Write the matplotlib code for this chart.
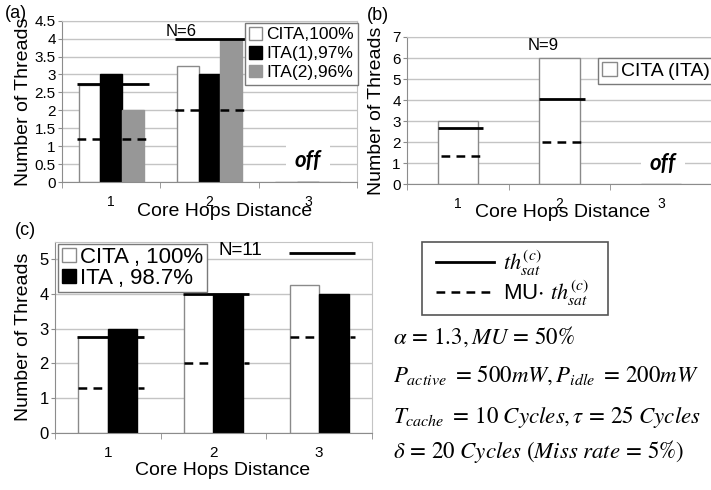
import matplotlib
matplotlib.use("Agg")
import matplotlib.pyplot as plt
from matplotlib.lines import Line2D
from matplotlib.patches import Rectangle
from matplotlib.ticker import FuncFormatter
import numpy as np

plt.rcParams['font.family'] = ['Liberation Sans', 'DejaVu Sans']
plt.rcParams['mathtext.fontset'] = 'stix'

# ---------------- data ----------------
hops = [1, 2, 3]
hop_labels = ['1', '2', '3']

# (a) N=6
a_cita = [2.7, 3.25, 0]
a_ita1 = [3, 3, 0]
a_ita2 = [2, 4, 0]
a_sat = [2.74, 4.0]
a_musat = [1.21, 2.0]
a_labels = ['CITA,100%', 'ITA(1),97%', 'ITA(2),96%']

# (b) N=9
b_cita = [3, 6, 0]
b_sat = [2.65, 4.05]
b_musat = [1.35, 2.0]
b_labels = ['CITA (ITA)']

# (c) N=11
c_cita = [2.75, 4.0, 4.25]
c_ita = [3, 4, 4]
c_sat = [2.77, 4.0, 5.17]
c_musat = [1.3, 2.0, 2.77]
c_labels = ['CITA , 100%', 'ITA , 98.7%']

params = [r'$\alpha\, =\, 1.3, MU\, =\, 50\%$',
          r'$P_{active}\ =\, 500mW, P_{idle}\ =\, 200mW$',
          r'$T_{cache}\ =\, 10\ Cycles, \tau\, =\, 25\ Cycles$',
          r'$\delta\, =\, 20\ Cycles\ (Miss\ rate\, =\, 5\%)$']

W, H = 711, 490
fig = plt.figure(figsize=(W / 100, H / 100), dpi=100)

GRID = '#c4c4c4'
SPINE = '#8c8c8c'
EDGE = '#8a8a8a'


def px_axes(l, r, t, b):
    return fig.add_axes([l / W, 1 - b / H, (r - l) / W, (b - t) / H])


def style(ax, ylim, ystep, yfs, xfs):
    ax.set_xlim(0.5, 3.5)
    ax.set_ylim(*ylim)
    ax.set_yticks(np.arange(0, ylim[1] + 1e-6, ystep))
    ax.yaxis.set_major_formatter(FuncFormatter(lambda v, p: '%g' % v))
    ax.set_xticks(hops)
    ax.set_xticklabels(hop_labels)
    ax.set_xticks([0.5, 1.5, 2.5, 3.5], minor=True)
    ax.tick_params(axis='x', which='major', length=0, pad=9, labelsize=xfs)
    ax.tick_params(axis='x', which='minor', length=4, color=SPINE, direction='out')
    ax.tick_params(axis='y', length=3, pad=1.5, color=SPINE, labelsize=yfs)
    ax.yaxis.grid(True, color=GRID, lw=1)
    ax.set_axisbelow(True)
    for s in ['left', 'bottom']:
        ax.spines[s].set_color(SPINE)
    for s in ['top', 'right']:
        ax.spines[s].set_color(GRID)


def sat_lines(ax, xs, sat, musat, l, r, dl, dr):
    for xv, v in zip(xs, sat):
        ax.hlines(v, xv + l, xv + r, colors='black', lw=2, zorder=4)
    for xv, v in zip(xs, musat):
        ax.hlines(v, xv + dl, xv + dr, colors='black', lw=1.8, linestyles=(0, (3.5, 2.5)), zorder=4)


def off_text(ax, xv, yv):
    ax.text(xv, yv, 'off', fontsize=16, fontweight='bold', fontstyle='italic',
            family=['Lato', 'DejaVu Sans'], ha='center', va='center', zorder=5,
            bbox=dict(boxstyle='square,pad=0.4', fc='white', ec='none'))


x = np.array(hops, dtype=float)

# ---------------- (a) ----------------
axa = px_axes(62, 357, 20.7, 182)
w = 0.22
axa.bar(x - w, a_cita, w, color='white', edgecolor=EDGE, lw=1, label=a_labels[0])
axa.bar(x, a_ita1, w, color='black', edgecolor='black', lw=1, label=a_labels[1])
axa.bar(x + w, a_ita2, w, color='#979797', edgecolor='#979797', lw=1, label=a_labels[2])
style(axa, (0, 4.5), 0.5, 11, 10)
sat_lines(axa, x[:2], a_sat, a_musat, -0.35, 0.38, -0.35, 0.35)
axa.text(1.71, 4.2, 'N=6', fontsize=12, ha='center', va='center')
off_text(axa, 3.0, 0.6)
axa.set_ylabel('Number of Threads', fontsize=14)
axa.yaxis.set_label_coords(-0.102, 0.5)
axa.set_xlabel('Core Hops Distance', fontsize=14)
axa.xaxis.set_label_coords(0.55, -0.133)
leg = axa.legend(loc='upper right', bbox_to_anchor=(1.004, 0.988), fontsize=12.5,
                 handlelength=0.75, handleheight=0.75, handletextpad=0.25,
                 labelspacing=0.2, borderpad=0.25, borderaxespad=0, fancybox=False,
                 edgecolor='#7a7a7a', framealpha=1)
leg.get_frame().set_linewidth(1)
fig.text(5 / W, 1 - 13 / H, '(a)', fontsize=13, va='center', ha='left')

# ---------------- (b) ----------------
axb = px_axes(407, 712, 37, 184)
axb.bar(x, b_cita, 0.4, color='white', edgecolor=EDGE, lw=1, label=b_labels[0])
style(axb, (0, 7), 1, 11, 10)
sat_lines(axb, x[:2], b_sat, b_musat, -0.2, 0.25, -0.17, 0.25)
axb.text(1.84, 6.6, 'N=9', fontsize=12, ha='center', va='center')
off_text(axb, 3.02, 1.0)
axb.set_ylabel('Number of Threads', fontsize=14)
axb.yaxis.set_label_coords(-0.073, 0.5)
axb.set_xlabel('Core Hops Distance', fontsize=14)
axb.xaxis.set_label_coords(0.51, -0.133)
leg = axb.legend(loc='upper left', bbox_to_anchor=(0.627, 0.857), fontsize=14,
                 handlelength=0.75, handleheight=0.75, handletextpad=0.2,
                 borderpad=0.2, borderaxespad=0, fancybox=False,
                 edgecolor='#7a7a7a', framealpha=1)
leg.get_frame().set_linewidth(1)
fig.text(367 / W, 1 - 15 / H, '(b)', fontsize=13, va='center', ha='left')

# ---------------- (c) ----------------
axc = px_axes(55, 372, 241.6, 433)
w = 0.28
axc.bar(x - w / 2, c_cita, w, color='white', edgecolor=EDGE, lw=1, label=c_labels[0])
axc.bar(x + w / 2, c_ita, w, color='black', edgecolor='black', lw=1, label=c_labels[1])
style(axc, (0, 5.5), 1, 12, 11)
sat_lines(axc, x, c_sat, c_musat, -0.29, 0.34, -0.28, 0.34)
axc.text(2.25, 5.25, 'N=11', fontsize=13.5, ha='center', va='center')
axc.set_ylabel('Number of Threads', fontsize=14)
axc.yaxis.set_label_coords(-0.073, 0.5)
axc.set_xlabel('Core Hops Distance', fontsize=14)
axc.xaxis.set_label_coords(0.53, -0.152)
leg = axc.legend(loc='upper left', bbox_to_anchor=(0.01, 0.99), fontsize=16,
                 handlelength=0.65, handleheight=0.65, handletextpad=0.2,
                 labelspacing=0.0, borderpad=0.15, borderaxespad=0, fancybox=False,
                 edgecolor='#7a7a7a', framealpha=1)
leg.get_frame().set_linewidth(1)
fig.text(15 / W, 1 - 230 / H, '(c)', fontsize=13, va='center', ha='left')

# ---------------- line legend and parameters ----------------
fig.patches.append(Rectangle((422 / W, 1 - 315 / H), (608 - 422) / W, (315 - 242) / H,
                             transform=fig.transFigure, fill=False,
                             edgecolor='#555555', lw=1.2))
handles = [Line2D([], [], color='black', lw=2),
           Line2D([], [], color='black', lw=1.8, ls=(0, (3.5, 2.5)))]
labels = [r'$th_{sat}^{(c)}$', r'MU$\cdot$ $th_{sat}^{(c)}$']
leg = fig.legend(handles, labels, loc='upper left', bbox_to_anchor=(432 / W, 1 - 244 / H),
                 fontsize=16, handlelength=2.6, handletextpad=0.4, labelspacing=0.05,
                 borderpad=0.2, frameon=False, borderaxespad=0)

for txt, yb in zip(params, [344, 381.7, 422.7, 458]):
    fig.text(393 / W, 1 - yb / H, txt, fontsize=16.5, ha='left', va='baseline')

fig.savefig('out.png', dpi=100)
